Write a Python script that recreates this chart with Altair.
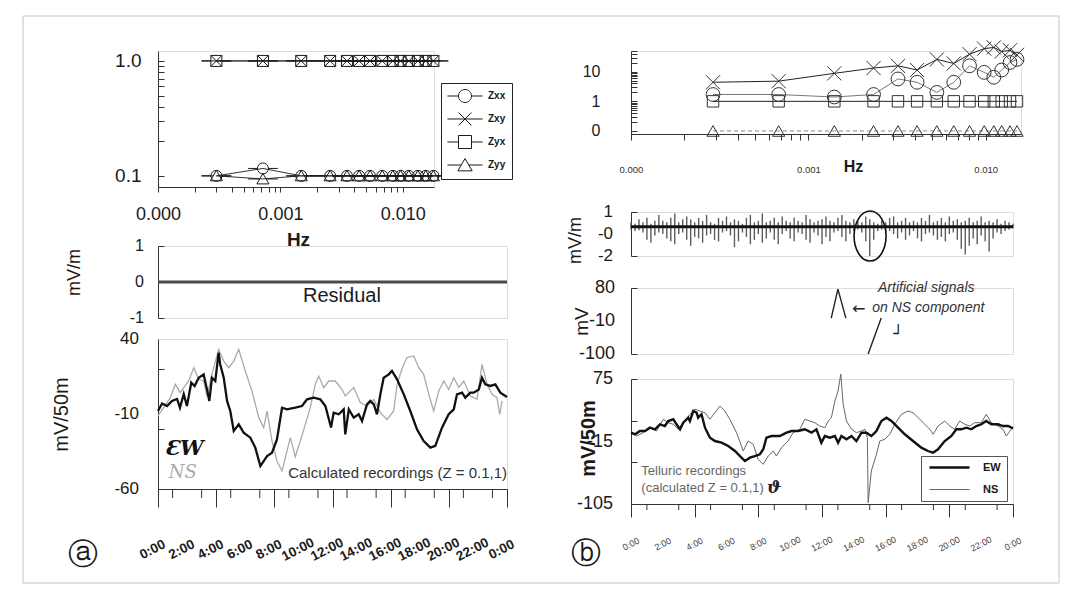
import altair as alt
import pandas as pd

SANS = "Liberation Sans, Arial, sans-serif"
NARROW = "Liberation Sans Narrow, Liberation Sans, Arial, sans-serif"
INK = "#1a1a1a"

# ---------------- (a) top: impedance vs frequency ----------------
comp_names = ["Zxx", "Zxy", "Zyx", "Zyy"]
freq_a = [0.0003, 0.00072, 0.00148, 0.00255, 0.0035, 0.0044, 0.0054,
          0.0068, 0.0083, 0.0096, 0.0112, 0.0133, 0.0154, 0.0178]
zxx_a = [0.1, 0.116, 0.1, 0.1, 0.1, 0.1, 0.1, 0.1, 0.1, 0.1, 0.1, 0.1, 0.1, 0.1]
zxy_a = [1.0, 1.0, 1.0, 1.0, 1.0, 1.0, 1.0, 1.0, 1.0, 1.0, 1.0, 1.0, 1.0, 1.0]
zyx_a = [1.0, 1.0, 1.0, 1.0, 1.0, 1.0, 1.0, 1.0, 1.0, 1.0, 1.0, 1.0, 1.0, 1.0]
zyy_a = [0.1, 0.094, 0.1, 0.1, 0.1, 0.1, 0.1, 0.1, 0.1, 0.1, 0.1, 0.1, 0.1, 0.1]

# ---------------- (b) top: impedance vs frequency ----------------
freq_b = [0.00029, 0.00068, 0.0014, 0.00233, 0.0032, 0.0041, 0.0053,
          0.0066, 0.0081, 0.0098, 0.0111, 0.0123, 0.0137, 0.0150]
zxx_b = [1.7, 1.7, 1.4, 1.7, 5.7, 4.4, 2.0, 4.4, 15.8, 9.5, 6.5, 11.4, 20.4, 26]
zxy_b = [4.4, 4.8, 8.8, 13.3, 15.8, 11.4, 26, 19, 39, 60, 66, 48, 53, 37]
zyx_b = [1.0, 1.0, 1.0, 1.0, 1.0, 1.0, 1.0, 1.0, 1.0, 1.0, 1.0, 1.0, 1.0, 1.0]
zyy_b = [0.1, 0.1, 0.1, 0.1, 0.1, 0.1, 0.1, 0.1, 0.1, 0.1, 0.1, 0.1, 0.1, 0.1]

# ---------------- (a) residual and recordings (hours, mV) ----------------
res_a_t = [0, 6, 12, 18, 24]
res_a_v = [0, 0, 0, 0, 0]

ew_a = [(0.00, -8), (0.28, -3), (0.62, -4.7), (0.96, -1.3), (1.31, 0), (1.51, -5.8),
        (1.77, 3.3), (1.99, -4.7), (2.29, 10.9), (2.52, 8.7), (2.80, 14.2), (3.14, 16.4),
        (3.37, 6.4), (3.53, -1.3), (3.71, 14.2), (3.94, 12), (4.17, 30.9), (4.28, 23),
        (4.52, 14.2), (4.75, -1.3), (4.97, -8), (5.21, -21.3), (5.55, -16.9), (5.89, -22.4),
        (6.35, -25.8), (6.69, -32.4), (7.04, -44.7), (7.50, -38), (7.84, -35.8), (8.18, -26.9),
        (8.53, -5.8), (8.87, -6.9), (9.44, -5.8), (9.90, -4.7), (10.25, -0.2), (10.71, 0.9),
        (11.16, -0.2), (11.51, -4.7), (11.90, -19), (12.08, -9.1), (12.43, -10.2), (12.77, -6.9),
        (12.88, -23.6), (13.12, -6.9), (13.46, -12.4), (13.80, -10.2), (14.03, -14.7), (14.37, -3.6),
        (14.60, -1.3), (14.84, -3.6), (15.06, -10.2), (15.29, 3.1), (15.52, 14.2), (15.87, 16.4),
        (16.09, 18.7), (16.44, 13.1), (16.90, 3.1), (17.35, -8), (17.81, -20.2), (18.27, -28),
        (18.73, -32.4), (19.07, -31.3), (19.53, -19.1), (19.99, -10.2), (20.34, -6.9), (20.56, 3.1),
        (20.91, 4.2), (21.13, 0.9), (21.48, 4.2), (21.71, 4.2), (22.06, 6.4), (22.28, 14.2),
        (22.51, 9.8), (22.85, 8.7), (23.20, 9.8), (23.54, 4.2), (24.0, 1.3)]

ns_a = [(0.0, -11.3), (0.85, 0.9), (1.19, 9.8), (1.53, 4.2), (1.77, 7.6), (2.11, 12),
        (2.46, 20.9), (2.80, 13.1), (3.14, 12), (3.37, 2), (3.71, 16.4), (4.17, 33.1),
        (4.52, 25.3), (4.86, 20.9), (5.21, 25.3), (5.55, 33.1), (6.00, 18.7), (6.46, 5.3),
        (6.93, -12.4), (7.27, -19.1), (7.50, -8), (7.84, -28), (8.18, -41.3), (8.53, -48),
        (8.87, -34.7), (9.10, -25.8), (9.44, -38.4), (9.79, -28), (10.13, -16.9), (10.47, -5.8),
        (10.82, 9.8), (11.05, 15.3), (11.40, 7.6), (11.74, 12), (12.19, 12), (12.65, 6.4),
        (12.88, 2), (13.46, 7.6), (13.91, -2.4), (14.37, -4.7), (14.84, -0.2), (15.29, -9.1),
        (15.75, -13.6), (16.21, -8), (16.44, 9.8), (16.78, 20.2), (17.12, 27.6), (17.59, 28.7),
        (17.93, 20.9), (18.27, 16.4), (18.62, 3.1), (18.96, -8), (19.31, 5.3), (19.65, 12),
        (19.99, 6.4), (20.34, 14.2), (20.68, 7.6), (21.03, 12), (21.48, 2), (21.94, -0.2),
        (22.28, 23.1), (22.63, 9.8), (22.97, 3.1), (23.31, 0.9), (23.50, -10.2), (23.66, -1.3)]

# ---------------- (b) residual spikes (mV/m), every 15 min ----------------
res_b_lo = [-0.2, -0.3, -0.25, -0.4, -0.9, -1.1, -0.6, -0.4,
            -0.5, -0.8, -1.0, -1.2, -0.5, -0.4, -0.9, -1.3,
            -0.7, -0.8, -1.1, -0.6, -0.5, -0.9, -1.0, -0.4,
            -0.3, -0.6, -1.4, -1.0, -0.4, -0.7, -1.2, -0.9,
            -0.5, -1.1, -0.8, -0.4, -0.9, -1.2, -0.5, -0.3,
            -0.8, -1.0, -0.4, -0.5, -0.9, -1.1, -0.4, -0.6,
            -1.2, -0.7, -1.0, -0.4, -0.3, -0.7, -1.0, -0.5,
            -0.3, -0.2, -0.4, -1.0, -2.0, -0.9, -0.3, -0.2,
            -0.4, -0.3, -0.5, -0.8, -0.4, -0.9, -0.6, -0.3,
            -0.8, -1.0, -0.5, -0.4, -0.6, -0.9, -0.7, -1.0,
            -0.5, -0.4, -0.9, -1.5, -1.9, -1.3, -0.8, -1.2,
            -0.6, -1.0, -1.7, -0.8, -0.4, -0.5, -0.3, -0.2,
            -0.1]
res_b_hi = [0.3, 0.2, 0.5, 0.3, 0.6, 0.2, 0.4, 0.8,
            0.4, 0.3, 0.6, 0.9, 0.3, 0.5, 0.7, 0.5,
            0.3, 0.6, 0.4, 0.8, 0.3, 0.2, 0.6, 0.4,
            0.7, 0.3, 0.5, 0.4, 0.2, 0.6, 0.8, 0.3,
            0.4, 0.9, 0.3, 0.4, 0.6, 0.3, 0.7, 0.4,
            0.3, 0.6, 0.4, 0.3, 0.8, 0.5, 0.3, 0.4,
            0.5, 0.7, 0.4, 0.3, 0.6, 0.8, 0.4, 0.3,
            0.5, 0.4, 0.3, 0.7, 0.5, 0.3, 0.2, 0.4,
            0.3, 0.6, 0.7, 0.3, 0.4, 0.6, 0.3, 0.4,
            0.3, 0.6, 0.4, 0.8, 0.3, 0.4, 0.6, 0.3,
            0.7, 0.4, 0.5, 0.3, 0.4, 0.6, 0.3, 0.4,
            0.7, 0.3, 0.4, 0.3, 0.5, 0.2, 0.4, 0.3,
            0.2]
res_b_step = 0.25

ew_b = [(0.0, -2.3), (0.25, -4.6), (0.56, 0.1), (0.88, 0.1), (1.19, 4.9), (1.51, 2.6),
        (1.82, 9.8), (2.13, 7.3), (2.34, 14.5), (2.66, 17), (2.86, 9.8), (3.08, 2.6),
        (3.28, 12.1), (3.60, 19.3), (3.70, 14.5), (3.91, 28.9), (4.12, 26.5), (4.22, 19.3),
        (4.43, 24.2), (4.65, 4.9), (4.96, -9.5), (5.27, -14.3), (5.69, -16.7), (6.11, -21.5),
        (6.53, -28.7), (6.94, -38.3), (7.16, -43.1), (7.47, -38.3), (7.78, -35.9), (8.10, -33.4),
        (8.31, -26.2), (8.51, -9.5), (8.83, -7.1), (9.35, -7.1), (9.77, -2.3), (10.08, 0.1),
        (10.50, 0.1), (10.92, 2.6), (11.34, -2.3), (11.65, 2.6), (11.96, -16.7), (12.18, -7.1),
        (12.49, -9.5), (12.81, -7.1), (13.01, -16.7), (13.22, -7.1), (13.54, -11.9), (13.85, -7.1),
        (14.16, -14.3), (14.48, -2.3), (14.79, -2.3), (15.10, -7.1), (15.42, 0.1), (15.73, 14.5),
        (16.05, 19.3), (16.36, 14.5), (16.78, 4.9), (17.20, -4.6), (17.72, -14.3), (18.24, -23.9),
        (18.66, -28.7), (18.97, -31.1), (19.29, -26.2), (19.71, -14.3), (20.13, -7.1), (20.44, 2.6),
        (20.75, 2.6), (21.07, 4.9), (21.38, 2.6), (21.70, 7.3), (22.01, 9.8), (22.32, 14.5),
        (22.64, 9.8), (23.06, 9.8), (23.37, 7.3), (23.69, 7.3), (24.0, 4)]

ns_b = [(0.0, 0.1), (0.35, -7.1), (0.77, -2.3), (1.19, 4.9), (1.61, 0.1), (2.03, 17),
        (2.34, 12.1), (2.66, 9.8), (2.97, 2.6), (3.28, 12.1), (3.70, 24.2), (4.02, 31.4),
        (4.33, 28.9), (4.65, 26.5), (4.96, 17), (5.27, 26.5), (5.59, 36.1), (5.90, 28.9),
        (6.21, 17), (6.63, -2.3), (6.94, -21.5), (7.05, -28.7), (7.36, -14.3), (7.68, -19.1),
        (7.99, -40.7), (8.31, -47.8), (8.62, -35.9), (8.94, -28.7), (9.14, -35.9), (9.45, -23.9),
        (9.87, -14.3), (10.19, -2.3), (10.61, 2.6), (10.92, 17), (11.24, 14.5), (11.55, 12.1),
        (11.86, 7.3), (12.18, 4.9), (12.39, 14.5), (12.59, 19.3), (12.81, 43.3), (13.01, 57.7),
        (13.18, 82), (13.33, 38.6), (13.54, 14.5), (13.85, 2.6), (14.16, -2.3), (14.48, 0.1),
        (14.69, 2.6), (14.85, -9.5), (14.90, -103), (15.10, -57.5), (15.42, -33.4), (15.63, -14.3),
        (15.94, -11.9), (16.26, -4.6), (16.57, 9.8), (16.99, 24.2), (17.41, 28.9), (17.72, 26.5),
        (18.04, 19.3), (18.46, 9.8), (18.77, 2.6), (18.98, -4.6), (19.29, 7.3), (19.71, 14.5),
        (20.03, 7.3), (20.34, 2.6), (20.65, 14.5), (20.97, 9.8), (21.28, 7.3), (21.59, 12.1),
        (22.01, 12.1), (22.32, 24.2), (22.64, 12.1), (23.06, 7.3), (23.37, 2.6), (23.58, -7.1),
        (23.89, 2.6)]

series_names = ["EW", "NS"]

# tick label texts
hour_vals = [0, 2, 4, 6, 8, 10, 12, 14, 16, 18, 20, 22, 24]
hour_txt = ["0:00", "2:00", "4:00", "6:00", "8:00", "10:00", "12:00", "14:00", "16:00",
            "18:00", "20:00", "22:00", "0:00"]
odd_hours = [1, 3, 5, 7, 9, 11, 13, 15, 17, 19, 21, 23]


# ---------------- helpers ----------------
def lab(pairs):
    parts = [f"abs(datum.value - ({v})) < 1e-9 ? '{s}'" for v, s in pairs]
    return " : ".join(parts) + " : ''"


def lin(domain):
    return alt.Scale(domain=domain, nice=False, zero=False)


def logs(domain):
    return alt.Scale(type="log", domain=domain, nice=False)


def yax(values, width, title=None, tx=0, ty=0, tsize=18, tweight="normal", ticksize=6,
        pairs=None, gap=0, lsize=16):
    kw = dict(orient="right", offset=-width, values=values, tickSize=ticksize, grid=False,
              domainColor="#333", tickColor="#333", title=title)
    if pairs:
        kw.update(labelExpr=lab(pairs), labelAlign="right", labelBaseline="middle",
                  labelPadding=-(ticksize + gap), labelFontSize=lsize, labelFont=SANS,
                  labelColor=INK, labelOverlap=False, labelFlush=False)
    else:
        kw.update(labels=False)
    if title:
        kw.update(titleAngle=270, titleX=tx, titleY=ty, titleAlign="center",
                  titleBaseline="middle", titleFontSize=tsize, titleFont=SANS,
                  titleFontWeight=tweight, titleColor=INK)
    return alt.Axis(**kw)


def ylabels(field, scale, vals, txt, gap, size):
    d = pd.DataFrame({field: vals, "lbl": txt})
    return alt.Chart(d).mark_text(align="right", baseline="middle", font=SANS,
                                  fontSize=size, color=INK).encode(
        y=alt.Y(f"{field}:Q", scale=scale), x=alt.value(-gap), text="lbl:N")


def tlabels(ypix, size, weight, color, dx):
    d = pd.DataFrame({"t": hour_vals, "lbl": hour_txt})
    return alt.Chart(d).mark_text(angle=333, align="center", baseline="middle", font=SANS,
                                  fontSize=size, fontWeight=weight, color=color, dx=dx).encode(
        x=alt.X("t:Q", scale=lin([0, 24])), y=alt.value(ypix), text="lbl:N")


def minor_ticks(h, length):
    d = pd.DataFrame({"t": odd_hours})
    return alt.Chart(d).mark_rule(color="#333", strokeWidth=1).encode(
        x=alt.X("t:Q", scale=lin([0, 24])), y=alt.value(h), y2=alt.value(h + length))


fx_ticks = [0.0001, 0.0002, 0.0003, 0.0004, 0.0005, 0.0006, 0.0007, 0.0008, 0.0009,
            0.001, 0.002, 0.003, 0.004, 0.005, 0.006, 0.007, 0.008, 0.009, 0.01]
fx_labels = [(0.0001, "0.000"), (0.001, "0.001"), (0.01, "0.010")]


def long_freq(freq, cols):
    rows = []
    for name, vals in zip(comp_names, cols):
        for f, v in zip(freq, vals):
            rows.append({"freq": f, "value": v, "comp": name})
    return pd.DataFrame(rows)


# ================= L1 =================
df_a = long_freq(freq_a, [zxx_a, zxy_a, zyx_a, zyy_a])
shape_paths = [
    "M-2.7,0L-1,0M1,0L2.7,0M-1,0A1,1,0,1,1,1,0A1,1,0,1,1,-1,0",
    "M-2.7,0L2.7,0M-1,-1L1,1M-1,1L1,-1",
    "M-2.7,0L-1,0M1,0L2.7,0M-1,-1L1,-1L1,1L-1,1Z",
    "M-2.7,0L-0.58,0M0.58,0L2.7,0M0,-1L1.1,0.9L-1.1,0.9Z",
]
xa = alt.X("freq:Q", scale=logs([0.0001, 0.018]),
           axis=alt.Axis(values=fx_ticks, labelExpr=lab(fx_labels), tickSize=5,
                         labelPadding=22, labelBaseline="middle", labelFontSize=18,
                         labelFont=SANS, labelColor=INK, labelFlush=False, labelOverlap=False,
                         domainColor="#333", tickColor="#333", grid=False,
                         title="Hz", titleFontWeight="bold", titleFontSize=19, titleFont=SANS,
                         titleX=140, titleY=52, titleBaseline="middle", titleColor=INK))
ya = alt.Y("value:Q", scale=logs([0.08, 1.22]),
           axis=yax([0.1, 0.2, 0.3, 0.4, 0.5, 0.6, 0.7, 0.8, 0.9, 1.0], 276,
                    pairs=[(0.1, "0.1"), (1.0, "1.0")], gap=17, lsize=19))

frame = alt.Chart(pd.DataFrame({"k": [0]})).mark_rect(
    fill="transparent", stroke="#c4c4c4", strokeWidth=1
).encode(x=alt.value(-135), x2=alt.value(901), y=alt.value(-35), y2=alt.value(532))

l1_lines = alt.Chart(df_a).mark_line(color="#333", strokeWidth=1).encode(
    x=xa, y=ya, detail="comp:N")
l1_pts = alt.Chart(df_a).mark_point(filled=False, size=121, color=INK, strokeWidth=1, opacity=1).encode(
    x="freq:Q", y="value:Q",
    shape=alt.Shape("comp:N", scale=alt.Scale(domain=comp_names, range=shape_paths),
                    legend=alt.Legend(orient="none", legendX=283, legendY=32, title=None,
                                      strokeColor="#222", padding=6, fillColor="white",
                                      symbolSize=169, symbolStrokeWidth=1, symbolStrokeColor=INK,
                                      symbolOffset=11, labelOffset=16, rowPadding=5,
                                      labelFontSize=10, labelFontWeight="bold", labelFont=SANS,
                                      labelColor=INK)))
L1 = alt.layer(frame, l1_lines, l1_pts).properties(width=276, height=136)

# ================= L2 =================
sc_l2 = lin([-1, 1])
df_res_a = pd.DataFrame({"t": res_a_t, "v": res_a_v})
x_a_none = alt.X("t:Q", scale=lin([0, 24]), axis=None)
l2_line = alt.Chart(df_res_a).mark_line(color="#4a4a4a", strokeWidth=3).encode(
    x=x_a_none,
    y=alt.Y("v:Q", scale=sc_l2,
            axis=yax([1, 0.5, 0, -0.5, -1], 349, title="mV/m", tx=-84, ty=26, tsize=18)))
l2_lab = ylabels("v", sc_l2, [1, 0, -1], ["1", "0", "-1"], 14, 16)
l2_text = alt.Chart(pd.DataFrame({"t": [12.65], "v": [-0.4], "s": ["Residual"]})).mark_text(
    font=NARROW, fontSize=20, color=INK, align="center", baseline="middle"
).encode(x="t:Q", y="v:Q", text="s:N")
L2 = alt.layer(l2_line, l2_lab, l2_text).properties(width=349, height=72)

# ================= L3 =================
sc_l3 = lin([-60, 40])
df_l3 = pd.DataFrame(
    [{"t": t, "v": v, "s": "NS"} for t, v in ns_a] + [{"t": t, "v": v, "s": "EW"} for t, v in ew_a])
x_time_a = alt.X("t:Q", scale=lin([0, 24]),
                 axis=alt.Axis(values=hour_vals, labels=False, tickSize=18,
                               domainColor="#333", tickColor="#333", grid=False,
                               title="ⓐ", titleFont="DejaVu Sans", titleFontSize=30,
                               titleFontWeight="normal", titleX=-76, titleY=65,
                               titleBaseline="middle", titleAlign="center", titleColor=INK))
y_l3 = alt.Y("v:Q", scale=sc_l3,
             axis=yax([40, 30, 20, 10, 0, -10, -20, -30, -40, -50, -60], 349,
                      title="mV/50m", tx=-97, ty=75, tsize=20))
l3_ns = alt.Chart(df_l3).transform_filter("datum.s == 'NS'").mark_line(
    color="#aaaaaa", strokeWidth=1.3).encode(x=x_time_a, y=y_l3)
l3_ew = alt.Chart(df_l3).transform_filter("datum.s == 'EW'").mark_line(
    color="#111", strokeWidth=2.3).encode(x="t:Q", y="v:Q")
l3_lab = ylabels("v", sc_l3, [40, -10, -60], ["40", "-10", "-60"], 19, 17)
l3_tl = tlabels(150 + 58, 13.5, "bold", INK, -6)
l3_minor = minor_ticks(150, 9)
l3_note = alt.Chart(pd.DataFrame({"t": [24], "v": [-49.5], "s": ["Calculated recordings (Z = 0.1,1)"]})).mark_text(
    font=NARROW, fontSize=15, color="#333", align="right", baseline="middle"
).encode(x="t:Q", y="v:Q", text="s:N")
l3_ew_lab = alt.Chart(pd.DataFrame({"t": [1.8], "v": [-33], "s": ["ƐW"]})).mark_text(
    font="DejaVu Serif", fontSize=21, fontStyle="italic", fontWeight="bold", color="#111",
    align="center", baseline="middle").encode(x="t:Q", y="v:Q", text="s:N")
l3_ns_lab = alt.Chart(pd.DataFrame({"t": [1.7], "v": [-49], "s": ["NS"]})).mark_text(
    font="DejaVu Serif", fontSize=18, fontStyle="italic", color="#aaa",
    align="center", baseline="middle").encode(x="t:Q", y="v:Q", text="s:N")
L3 = alt.layer(l3_ns, l3_ew, l3_lab, l3_tl, l3_minor, l3_note, l3_ew_lab, l3_ns_lab).properties(
    width=349, height=150)

# ================= R1 =================
xb = alt.X("freq:Q", scale=logs([0.0001, 0.0158]),
           axis=alt.Axis(values=fx_ticks, labelExpr=lab(fx_labels), tickSize=6,
                         labelPadding=29, labelBaseline="middle", labelFontSize=9.5,
                         labelFont=SANS, labelColor="#333", labelFlush=False, labelOverlap=False,
                         domainColor="#333", tickColor="#333", grid=False,
                         title="Hz", titleFontWeight="bold", titleFontSize=16, titleFont=SANS,
                         titleX=222, titleY=32, titleBaseline="middle", titleColor=INK))
yb = alt.Y("value:Q", scale=logs([0.079, 50]),
           axis=yax([0.1, 0.2, 0.3, 0.4, 0.5, 0.6, 0.7, 0.8, 0.9, 1, 2, 3, 4, 5, 6, 7, 8, 9,
                     10, 20, 30, 40, 50], 390,
                    pairs=[(0.1, "0"), (1, "1"), (10, "10")], gap=31, lsize=16))
b_cols = [zxx_b, zxy_b, zyx_b, zyy_b]
b_line_style = [("#777", []), ("#222", []), ("#222", []), ("#888", [4, 3])]
b_shapes = ["circle", "M-1,-1L1,1M-1,1L1,-1", "square", "triangle-up"]
b_sizes = [190, 200, 130, 150]
r1_layers = []
first = True
for name, vals, (lc, dash), shp, sz in zip(comp_names, b_cols, b_line_style, b_shapes, b_sizes):
    d = pd.DataFrame({"freq": freq_b, "value": vals})
    if dash:
        ln = alt.Chart(d).mark_line(color=lc, strokeWidth=1, strokeDash=dash)
    else:
        ln = alt.Chart(d).mark_line(color=lc, strokeWidth=1)
    if first:
        ln = ln.encode(x=xb, y=yb)
        first = False
    else:
        ln = ln.encode(x="freq:Q", y="value:Q")
    pt = alt.Chart(d).mark_point(shape=shp, size=sz, filled=False, color="#333",
                                 strokeWidth=1, opacity=1).encode(x="freq:Q", y="value:Q")
    r1_layers += [ln, pt]
R1 = alt.layer(*r1_layers).properties(width=390, height=83)

# ================= R2 =================
sc_r2 = lin([-2, 1])
df_r2 = pd.DataFrame({"t": [i * res_b_step for i in range(len(res_b_lo))],
                      "lo": res_b_lo, "hi": res_b_hi})
x_b_none = alt.X("t:Q", scale=lin([0, 24]), axis=None)
r2_spk = alt.Chart(df_r2).mark_rule(color="#5c5c5c", strokeWidth=1.4).encode(
    x=x_b_none,
    y=alt.Y("lo:Q", scale=sc_r2,
            axis=yax([1, 0.25, -0.5, -1.25, -2], 382, title="mV/m", tx=-56, ty=28, tsize=18)),
    y2="hi:Q")
r2_zero = alt.Chart(pd.DataFrame({"t": [0, 24], "lo": [0, 0]})).mark_line(
    color="#111", strokeWidth=3).encode(x="t:Q", y="lo:Q")
r2_lab = ylabels("lo", sc_r2, [1, -0.5, -2], ["1", "-0", "-2"], 18, 17)
r2_ell = alt.Chart(pd.DataFrame({"t": [15.02], "lo": [-0.64]})).mark_point(
    shape="M0,-1A0.64,1,0,1,1,0,1A0.64,1,0,1,1,0,-1", size=2500, filled=False,
    color="#111", strokeWidth=1.6, opacity=1).encode(x="t:Q", y="lo:Q")
R2 = alt.layer(r2_spk, r2_zero, r2_lab, r2_ell).properties(width=382, height=44)

# ================= R3 =================
sc_r3 = lin([-100, 80])
ann_t = [18.55, 18.68]
ann_v = [80, 25]
ann_s = ["Artificial signals", "on NS component"]
peak_t = [12.58, 13.0, 13.5]
peak_v = [-2, 77, -2]
slash_t = [14.9, 15.72]
slash_v = [-100, -2]
r3_txt = alt.Chart(pd.DataFrame({"t": ann_t, "v": ann_v, "s": ann_s})).mark_text(
    font=SANS, fontSize=14, fontStyle="italic", color="#333", align="center", baseline="middle"
).encode(x=alt.X("t:Q", scale=lin([0, 24]), axis=None),
         y=alt.Y("v:Q", scale=sc_r3,
                 axis=yax([80, 35, -10, -55, -100], 382, title="mV", tx=-50, ty=33, tsize=19)),
         text="s:N")
r3_lab = ylabels("v", sc_r3, [80, -10, -100], ["80", "-10", "-100"], 16, 18)
r3_peak = alt.Chart(pd.DataFrame({"t": peak_t, "v": peak_v})).mark_line(
    color="#222", strokeWidth=1.4).encode(x="t:Q", y="v:Q")
r3_slash = alt.Chart(pd.DataFrame({"t": slash_t, "v": slash_v})).mark_line(
    color="#222", strokeWidth=1.4).encode(x="t:Q", y="v:Q")
r3_sym = alt.Chart(pd.DataFrame({"t": [14.3, 16.8], "v": [23, -45], "s": ["←", "┘"]})).mark_text(
    font="DejaVu Sans", fontSize=16, color="#222", align="center", baseline="middle"
).encode(x="t:Q", y="v:Q", text="s:N")
R3 = alt.layer(r3_txt, r3_lab, r3_peak, r3_slash, r3_sym).properties(width=382, height=66)

# ================= R4 =================
sc_r4 = lin([-105, 75])
df_r4 = pd.DataFrame(
    [{"t": t, "v": v, "series": "NS"} for t, v in ns_b] + [{"t": t, "v": v, "series": "EW"} for t, v in ew_b])
leg_b = dict(orient="none", legendX=763, legendY=405, title=None, strokeColor="#555",
             padding=6, fillColor="white", symbolType="M-5,0L5,0", symbolSize=64,
             symbolOffset=17, labelOffset=28, labelFontSize=11, labelFontWeight="bold",
             labelFont=SANS, labelColor=INK, rowPadding=10)
x_time_b = alt.X("t:Q", scale=lin([0, 24]),
                 axis=alt.Axis(values=hour_vals, labels=False, tickSize=13,
                               domainColor="#333", tickColor="#333", grid=False,
                               title="ⓑ", titleFont="DejaVu Sans", titleFontSize=30,
                               titleFontWeight="normal", titleX=-46, titleY=49,
                               titleBaseline="middle", titleAlign="center", titleColor=INK))
y_r4 = alt.Y("v:Q", scale=sc_r4,
             axis=yax([75, 60, 45, 30, 15, 0, -15, -30, -45, -60, -75, -90, -105], 382,
                      title="mV/50m", tx=-43, ty=59, tsize=20, tweight="bold"))
r4_lines = alt.Chart(df_r4).mark_line().encode(
    x=x_time_b, y=y_r4,
    color=alt.Color("series:N", scale=alt.Scale(domain=series_names, range=["#111", "#666"]),
                    legend=alt.Legend(**leg_b)),
    strokeWidth=alt.StrokeWidth("series:N", scale=alt.Scale(domain=series_names, range=[2.4, 1.0]),
                                legend=alt.Legend(**leg_b)),
    order=alt.Order("t:Q"))
r4_lab = ylabels("v", sc_r4, [75, -15, -105], ["75", "-15", "-105"], 18, 18)
r4_tl = tlabels(125 + 40, 9, "normal", "#444", 0)
r4_minor = minor_ticks(125, 6)
r4_txt = alt.Chart(pd.DataFrame({"t": [0.65, 0.65], "v": [-57.5, -82],
                                 "s": ["Telluric recordings", "(calculated Z = 0.1,1)"]})).mark_text(
    font=NARROW, fontSize=13, color="#666", align="left", baseline="middle"
).encode(x="t:Q", y="v:Q", text="s:N")
r4_sym = alt.Chart(pd.DataFrame({"t": [9.0], "v": [-82], "s": ["ϑ"]})).mark_text(
    font="DejaVu Serif", fontSize=17, fontWeight="bold", fontStyle="italic", color="#222",
    align="center", baseline="middle").encode(x="t:Q", y="v:Q", text="s:N")
R4 = alt.layer(r4_lines, r4_lab, r4_tl, r4_minor, r4_txt, r4_sym).properties(width=382, height=125)

# ================= layout =================
left = alt.vconcat(L1, alt.vconcat(L2, L3, spacing=21, bounds="flush"), spacing=59, bounds="flush")
right = alt.vconcat(R1, alt.vconcat(R2, alt.vconcat(R3, R4, spacing=25, bounds="flush"),
                                    spacing=32, bounds="flush"), spacing=78, bounds="flush")
chart = alt.hconcat(left, right, spacing=473, bounds="flush").properties(
    padding={"left": 22, "top": 15, "right": 4, "bottom": 4},
    background="white"
).configure_view(strokeWidth=0).configure(font=SANS)

chart.save("out.html", embed_options={"renderer": "svg", "actions": False})
